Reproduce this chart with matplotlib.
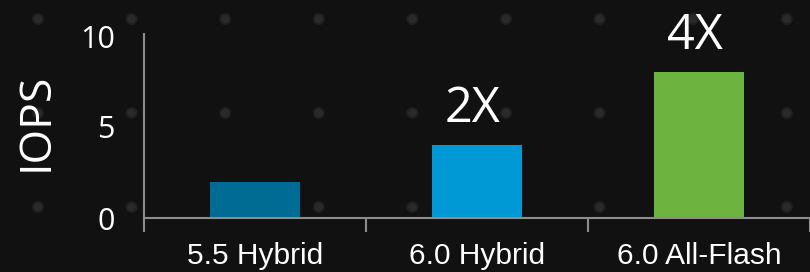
import matplotlib
matplotlib.use('Agg')
import matplotlib.pyplot as plt
import numpy as np

# data
categories = ['5.5 Hybrid', '6.0 Hybrid', '6.0 All-Flash']
iops = [2, 4, 8]
bar_labels = ['', '2X', '4X']
bar_colors = ['#006c93', '#0099d6', '#6cb33f']
yticks = [0, 5, 10]

bg = '#111111'
fig = plt.figure(figsize=(8.1, 2.72), dpi=100, facecolor=bg)

# dotted background pattern
deco = fig.add_axes([0, 0, 1, 1], zorder=-1)
deco.set_xlim(0, 810)
deco.set_ylim(272, 0)
deco.axis('off')
gx, gy = np.meshgrid(np.arange(38, 810, 93.6), np.arange(19, 272, 94))
deco.scatter(gx.ravel(), gy.ravel(), s=75, color='#1f1f1f', edgecolors='none')
deco.scatter(gx.ravel(), gy.ravel(), s=35, color='#2a2a2a', edgecolors='none')

ax = fig.add_axes([144 / 810, 1 - 218 / 272, 666 / 810, 182 / 272])
ax.set_facecolor('none')
x = np.arange(len(categories))
bars = ax.bar(x, iops, width=0.405, color=bar_colors, zorder=2)

for b, lab in zip(bars, bar_labels):
    if lab:
        ax.text(b.get_x() + b.get_width() / 2 - 0.02, b.get_height() + 0.6, lab,
                ha='center', va='bottom', color='white', fontsize=35,
                family='Open Sans')

ax.set_xlim(-0.5, 2.5)
ax.set_ylim(0, 10)
for s in ['top', 'right']:
    ax.spines[s].set_visible(False)
for s in ['left', 'bottom']:
    ax.spines[s].set_color('#8c8c8c')
    ax.spines[s].set_linewidth(1.5)
ax.spines['left'].set_bounds(0, 10.1)

# category boundary ticks
ax.set_xticks([-0.5, 0.5, 1.5, 2.5])
ax.set_xticklabels([])
ax.tick_params(axis='x', length=10, width=1.5, color='#8c8c8c', direction='out')
for xi, c in zip(x, categories):
    ax.text(xi, -2.52, c, ha='center', va='baseline', color='white', fontsize=21.5,
            family='Liberation Sans')

ax.set_yticks(yticks)
ax.set_yticklabels([str(v) for v in yticks], color='white', fontsize=22,
                   family='Open Sans')
ax.tick_params(axis='y', length=0, pad=21)

fig.text(36 / 810, 1 - 122 / 272, 'IOPS', rotation=90, ha='center', va='center',
         color='white', fontsize=32, family='Open Sans')

fig.savefig('out.png', dpi=100, facecolor=bg)
